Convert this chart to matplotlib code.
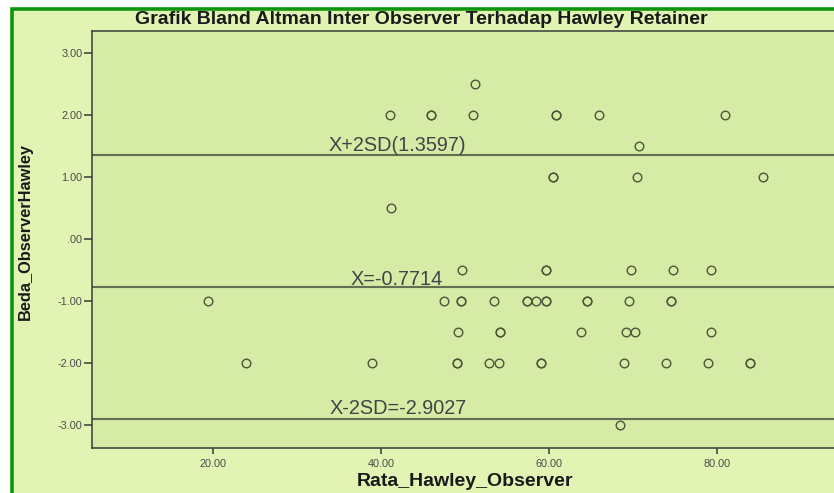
import matplotlib
matplotlib.use("Agg")
import matplotlib.pyplot as plt
from matplotlib.patches import Rectangle

plt.rcParams['font.family'] = ['Liberation Sans', 'DejaVu Sans']

# ---- data ----
diff_25 = [51.2]
diff_20 = [41.0, 45.9, 45.9, 51.0, 60.9, 60.9, 66.0, 81.0]
diff_15 = [70.7]
diff_10 = [60.5, 60.5, 70.5, 85.5]
diff_05 = [41.2]
diff_m05 = [49.7, 59.7, 59.7, 69.75, 74.75, 79.3]
diff_m10 = [19.4, 47.5, 49.5, 49.5, 53.5, 57.4, 57.4, 58.5, 59.6, 59.6,
            64.5, 64.5, 69.5, 74.5, 74.5]
diff_m15 = [49.2, 54.2, 54.2, 63.8, 69.2, 70.3, 79.3]
diff_m20 = [23.9, 38.95, 49.0, 49.0, 52.9, 54.0, 59.0, 59.0, 69.0, 74.0,
            79.0, 84.0, 84.0]
diff_m30 = [68.5]

groups = [(2.5, diff_25), (2.0, diff_20), (1.5, diff_15), (1.0, diff_10),
          (0.5, diff_05), (-0.5, diff_m05), (-1.0, diff_m10), (-1.5, diff_m15),
          (-2.0, diff_m20), (-3.0, diff_m30)]

upper_sd = 1.3597
mean_diff = -0.7714
lower_sd = -2.9027
ref_labels = ["X+2SD(1.3597)", "X=-0.7714", "X-2SD=-2.9027"]
ref_values = [upper_sd, mean_diff, lower_sd]
label_x = [33.7, 36.3, 33.9]
label_off = [2.9, 1.4, 3.6]

x_ticks = [20, 40, 60, 80]
y_ticks = [3, 2, 1, 0, -1, -2, -3]
y_ticklabels = ["3.00", "2.00", "1.00", ".00", "-1.00", "-2.00", "-3.00"]
x_ticklabels = ["20.00", "40.00", "60.00", "80.00"]

title = "Grafik Bland Altman Inter Observer Terhadap Hawley Retainer"
xlabel = "Rata_Hawley_Observer"
ylabel = "Beda_ObserverHawley"

# ---- figure ----
W, H = 834, 493
fig = plt.figure(figsize=(W / 100, H / 100), dpi=100, facecolor="white")

outer_bg = "#e2f4b3"
inner_bg = "#d5eba6"
green = "#0d960d"

fig.patches.append(Rectangle((12 / W, -1), 3, 1 - 8.5 / H + 1,
                             transform=fig.transFigure, facecolor=outer_bg,
                             edgecolor=green, linewidth=2.6, zorder=-10))

left_px, right_px, top_px, bottom_px = 92, 834, 31, 448.3
ax = fig.add_axes([left_px / W, 1 - bottom_px / H,
                   (right_px - left_px) / W, (bottom_px - top_px) / H])
ax.set_zorder(1)
ax.set_facecolor(inner_bg)
ax.set_xlim(5.54, 93.98)
ax.set_ylim(-3.375, 3.36)

for s in ["left", "bottom", "top"]:
    ax.spines[s].set_color("#3a3a3a")
    ax.spines[s].set_linewidth(1.1)
ax.spines["right"].set_visible(False)

edge = "#4b5838"
for yv, xs in groups:
    ax.plot(xs, [yv] * len(xs), linestyle="none", marker="o",
            markersize=6.2, markerfacecolor="none",
            markeredgecolor=edge, markeredgewidth=1.0, zorder=3)

for val, lab, lx, off in zip(ref_values, ref_labels, label_x, label_off):
    ax.axhline(val, color="#636f52", linewidth=1.5, zorder=2)
    ax.annotate(lab, xy=(lx, val), xytext=(0, off), textcoords="offset points",
                ha="left", va="baseline", fontsize=14.3, color="#444444",
                zorder=4)

ax.set_xticks(x_ticks)
ax.set_xticklabels(x_ticklabels)
ax.set_yticks(y_ticks)
ax.set_yticklabels(y_ticklabels)
ax.tick_params(axis="both", direction="out", width=1.1,
               color="#3a3a3a", labelsize=7.8, labelcolor="#4a4a4a")
ax.tick_params(axis="y", pad=1.0, length=6)
ax.tick_params(axis="x", pad=3, length=4.5)

fig.text(421 / W, 1 - 19.5 / H, title, ha="center", va="center",
         fontsize=14, fontweight="bold", color="#1a1a1a")
fig.text(465 / W, 1 - 481 / H, xlabel, ha="center", va="center",
         fontsize=14, fontweight="bold", color="#1a1a1a")
fig.text(25 / W, 1 - 232 / H, ylabel, ha="center", va="center",
         rotation=90, fontsize=11.8, fontweight="bold", color="#1a1a1a")

fig.savefig("out.png", dpi=100, facecolor="white")
